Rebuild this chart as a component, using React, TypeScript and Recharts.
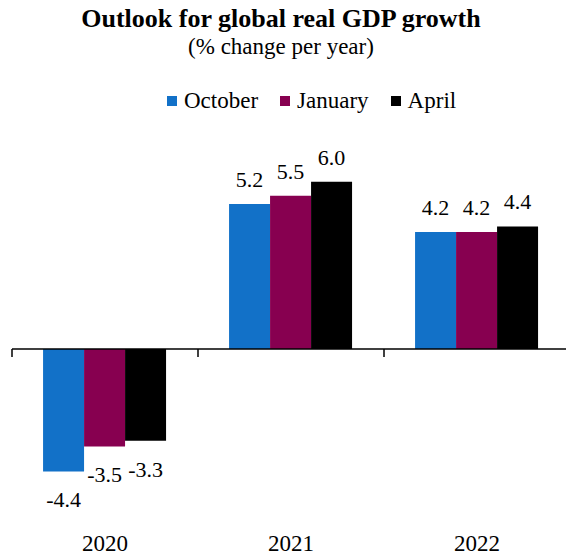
import React from 'react';
import { BarChart, Bar, XAxis, YAxis, ReferenceLine, LabelList, Legend } from 'recharts';

const categories = ['2020', '2021', '2022'];
const october = [-4.4, 5.2, 4.2];
const january = [-3.5, 5.5, 4.2];
const april = [-3.3, 6.0, 4.4];
const seriesNames = ['October', 'January', 'April'];
const seriesColors = ['#1271C8', '#870050', '#000000'];
const yDomain = [-6, 7];

const data = categories.map((c, i) => ({
  year: c,
  October: october[i],
  January: january[i],
  April: april[i],
}));

const FONT = '"Liberation Serif", "Times New Roman", serif';

const ValueLabel = (props: any) => {
  const vb = props.viewBox || {};
  const x = props.x ?? vb.x;
  const y = props.y ?? vb.y;
  const width = props.width ?? vb.width;
  const height = props.height ?? vb.height;
  const value = Number(props.value);
  const top = Math.min(y, y + height);
  const bottom = Math.max(y, y + height);
  const cx = x + width / 2;
  const ty = value >= 0 ? top - 17 : bottom + 36;
  return (
    <text x={cx} y={ty} textAnchor="middle" fontFamily={FONT} fontSize={22} fill="#000">
      {value.toFixed(1)}
    </text>
  );
};

const LegendContent = () => (
  <div
    style={{
      position: 'absolute',
      left: 167,
      top: 89,
      display: 'flex',
      alignItems: 'center',
      height: 24,
      fontFamily: FONT,
      fontSize: 23,
      lineHeight: '24px',
      color: '#000',
      whiteSpace: 'nowrap',
    }}
  >
    {seriesNames.map((n, i) => (
      <div key={n} style={{ display: 'flex', alignItems: 'center', marginRight: i < seriesNames.length - 1 ? 22 : 0 }}>
        <div style={{ width: 10, height: 10, background: seriesColors[i], marginRight: 7 }} />
        <span>{n}</span>
      </div>
    ))}
  </div>
);

export default function App() {
  return (
    <div style={{ position: 'absolute', left: 0, top: 0, width: 566, height: 556, overflow: 'hidden', background: '#fff' }}>
      <div
        style={{
          position: 'absolute',
          left: 0,
          top: 4,
          width: 562,
          textAlign: 'center',
          fontFamily: FONT,
          fontWeight: 'bold',
          fontSize: 26,
          lineHeight: '30px',
          color: '#000',
        }}
      >
        Outlook for global real GDP growth
      </div>
      <div
        style={{
          position: 'absolute',
          left: 0,
          top: 34,
          width: 562,
          textAlign: 'center',
          fontFamily: FONT,
          fontSize: 23,
          lineHeight: '26px',
          color: '#000',
        }}
      >
        (% change per year)
      </div>
      <BarChart
        width={570}
        height={556}
        data={data}
        margin={{ top: 154, right: 0, left: 12, bottom: 0 }}
        barCategoryGap="16.7%"
        barGap={0}
      >
        <XAxis
          dataKey="year"
          axisLine={false}
          tickLine={false}
          height={40}
          tickMargin={13}
          tick={{ fontFamily: FONT, fontSize: 23, fill: '#000' }}
        />
        <YAxis hide domain={yDomain} />
        <Legend
          layout="vertical"
          align="center"
          verticalAlign="top"
          content={<LegendContent />}
          wrapperStyle={{ position: 'absolute', left: 0, top: 0, width: 566, height: 0 }}
        />
        {seriesNames.map((n, i) => (
          <Bar key={n} dataKey={n} fill={seriesColors[i]} isAnimationActive={false}>
            <LabelList dataKey={n} content={<ValueLabel />} />
          </Bar>
        ))}
        <ReferenceLine y={0} stroke="#000" strokeWidth={1.5} />
        {categories.map((c) => (
          <ReferenceLine
            key={'t' + c}
            segment={[
              { x: c, y: 0 },
              { x: c, y: -0.29 },
            ]}
            position="start"
            stroke="#000"
            strokeWidth={1.5}
          />
        ))}
      </BarChart>
    </div>
  );
}
